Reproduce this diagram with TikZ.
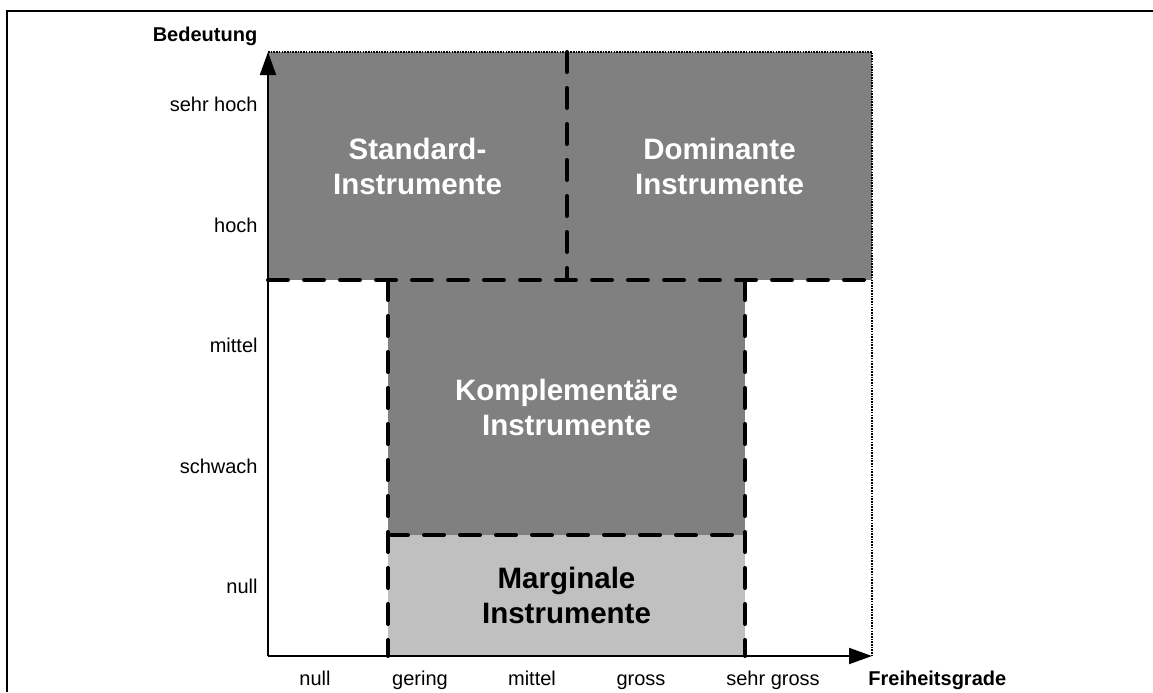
\documentclass[tikz,border=0pt]{standalone}
\usepackage{fontspec}
\setmainfont{Liberation Sans}
\usepackage{tikz}
\usetikzlibrary{arrows.meta}
\pgfdeclarelayer{edgelayer}
\pgfdeclarelayer{nodelayer}
\pgfsetlayers{edgelayer,nodelayer,main}
\definecolor{hexcolor0x808080}{rgb}{0.502,0.502,0.502}
\definecolor{hexcolor0xc0c0c0}{rgb}{0.753,0.753,0.753}
\definecolor{myblack}{rgb}{0.000,0.000,0.000}
\definecolor{mywhite}{rgb}{1.000,1.000,1.000}
\tikzstyle{field}=[fill=hexcolor0x808080,draw=none]
\tikzstyle{fieldlight}=[fill=hexcolor0xc0c0c0,draw=none]
\tikzstyle{border}=[draw=myblack,line width=2pt,dash pattern=on 10pt off 8pt,line cap=round]
\tikzstyle{limit}=[draw=myblack,line width=1pt,dash pattern=on 0.8pt off 0.55pt]
\tikzstyle{axisline}=[draw=myblack,line width=1pt,-{Triangle[length=11.5pt,width=8pt]}]
\tikzstyle{frameline}=[draw=myblack,line width=1.3pt]
\tikzstyle{ticklabel}=[inner sep=0pt,font=\fontsize{10}{12}\selectfont]
\tikzstyle{axislabel}=[inner sep=0pt,font=\fontsize{10}{12}\selectfont\bfseries]
\tikzstyle{arealabel}=[align=center,inner sep=0pt,font=\fontsize{14.75}{17.5}\selectfont\bfseries]

\begin{document}
\begin{tikzpicture}[x=0.5pt,y=-0.5pt]
	\useasboundingbox (0,0) rectangle (1153,692);
	%\begin{pgfonlayer}{nodelayer}
		\coordinate (0) at (268,656);
		\coordinate (1) at (268,52);
		\coordinate (2) at (872,52);
		\coordinate (3) at (872,656);
		\coordinate (4) at (268,280);
		\coordinate (5) at (872,280);
		\coordinate (6) at (567,52);
		\coordinate (7) at (567,280);
		\coordinate (8) at (388,280);
		\coordinate (9) at (745,280);
		\coordinate (10) at (388,535);
		\coordinate (11) at (745,535);
		\coordinate (12) at (388,656);
		\coordinate (13) at (745,656);
		\coordinate (14) at (7,692);
		\coordinate (15) at (7,11);
		\coordinate (16) at (1153,11);
	%\end{pgfonlayer}
	\begin{pgfonlayer}{edgelayer}
		\fill [style=field] (1) rectangle (5);
		\fill [style=field] (8) rectangle (11);
		\fill [style=fieldlight] (10) rectangle (13);
	\end{pgfonlayer}

	\draw [style=frameline] (14) -- (15) -- (16);

	\draw [style=border] (4) to (5);
	\draw [style=border] (6) to (7);
	\draw [style=border] (8) to (12);
	\draw [style=border] (9) to (13);
	\draw [style=border] (10) to (11);
	\draw [style=limit] (1) -- (2) -- (3);

	\draw [style=axisline] (0) to (1);
	\draw [style=axisline] (0) to (3);

	\node [style=arealabel,text=mywhite] (17) at (417.5,166) {Standard-\\Instrumente};
	\node [style=arealabel,text=mywhite] (18) at (719.5,166) {Dominante\\Instrumente};
	\node [style=arealabel,text=mywhite] (19) at (566.5,407) {Komplementäre\\Instrumente};
	\node [style=arealabel,text=myblack] (20) at (566.5,595) {Marginale\\Instrumente};

	\node [style=axislabel,anchor=base] (21) at (205,41) {Bedeutung};
	\node [style=ticklabel,anchor=base east] (22) at (258,111) {sehr hoch};
	\node [style=ticklabel,anchor=base east] (23) at (258,232) {hoch};
	\node [style=ticklabel,anchor=base east] (24) at (258,352) {mittel};
	\node [style=ticklabel,anchor=base east] (25) at (258,473) {schwach};
	\node [style=ticklabel,anchor=base east] (26) at (258,593) {null};

	\node [style=ticklabel,anchor=base] (27) at (315,685) {null};
	\node [style=ticklabel,anchor=base] (28) at (420,685) {gering};
	\node [style=ticklabel,anchor=base] (29) at (532,685) {mittel};
	\node [style=ticklabel,anchor=base] (30) at (641,685) {gross};
	\node [style=ticklabel,anchor=base] (31) at (773,685) {sehr gross};
	\node [style=axislabel,anchor=base west] (32) at (868,685) {Freiheitsgrade};
\end{tikzpicture}
\end{document}
